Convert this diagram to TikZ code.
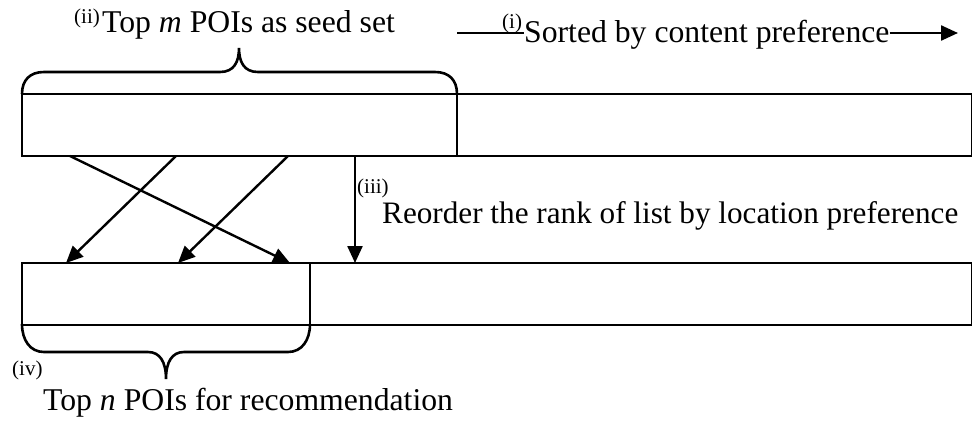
\documentclass[tikz,border=0pt]{standalone}
\usepackage{fontspec}
\setmainfont{Liberation Serif}
\usetikzlibrary{arrows.meta}
\begin{document}
\begin{tikzpicture}[x=1pt,y=-1pt,
  strip/.style={draw, rectangle, line width=2.6pt, minimum height=62pt,
    inner sep=0pt, outer sep=0pt, anchor=north west},
  arr/.style={line width=2.4pt, -{Triangle[length=17pt,width=15pt]}},
  brc/.style={line width=2.6pt},
  txt/.style={inner sep=0pt, anchor=base west, font=\fontsize{31.7}{32}\selectfont},
  sup/.style={inner sep=0pt, anchor=base west, font=\fontsize{21}{21}\selectfont}]
\useasboundingbox (0,0) rectangle (972,421);

% ranked lists (the right parts run past the page edge)
\node[strip, minimum width=435pt] (ts) at (22,94) {};
\node[strip, minimum width=515.5pt] (tr) at (457,94) {};
\node[strip, minimum width=288pt] (bs) at (22,263) {};
\node[strip, minimum width=662.5pt] (br) at (310,263) {};

% reordering arrows
\draw[arr] ([xshift=48pt]ts.south west) -- ([xshift=268pt]bs.north west);
\draw[arr] ([xshift=154pt]ts.south west) -- ([xshift=44pt]bs.north west);
\draw[arr] ([xshift=266pt]ts.south west) -- ([xshift=156pt]bs.north west);
\draw[arr] ([xshift=333pt]ts.south west) -- ([xshift=45pt]br.north west);

% braces
\draw[brc] (22,94) .. controls (22,80) and (30,72) .. (44,72) -- (220,72)
  .. controls (234,72) and (239,62) .. (239,48)
  .. controls (239,62) and (244,72) .. (258,72) -- (435,72)
  .. controls (449,72) and (457,80) .. (457,94);
\draw[brc] (22,324) .. controls (22,340) and (30,352) .. (44,352) -- (148,352)
  .. controls (160,352) and (166,362) .. (166,379)
  .. controls (166,362) and (172,352) .. (184,352) -- (288,352)
  .. controls (302,352) and (310,340) .. (310,324);

% labels
\node[sup] (s2) at (74,23) {(ii)};
\node[txt] (seed) at (102,32) {Top \textit{m} POIs as seed set};

\node[sup] (s1) at (502,28.5) {(i)};
\node[txt] (sorted) at (524,42) {Sorted by content preference};
\coordinate (a0) at (457,33);
\coordinate (a1) at (958,33);
\draw[line width=2.4pt] (a0) -- (a0 -| sorted.west);
\draw[arr] (sorted.east |- a0) -- (a1);

\node[sup] (s3) at (357,193.5) {(iii)};
\node[txt, font=\fontsize{31.2}{32}\selectfont] (reord) at (382,223)
  {Reorder the rank of list by location preference};

\node[sup] (s4) at (12,375) {(iv)};
\node[txt] (rec) at (43,410) {Top \textit{n} POIs for recommendation};
\end{tikzpicture}
\end{document}
